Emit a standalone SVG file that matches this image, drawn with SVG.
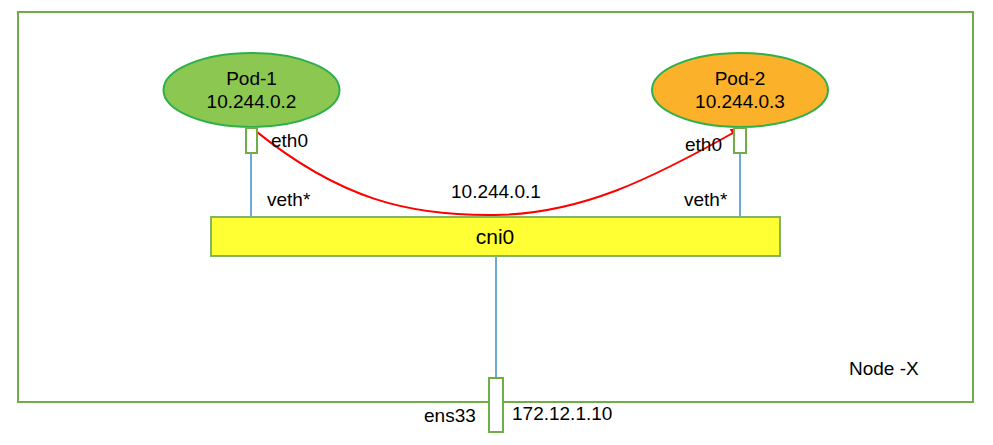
<svg xmlns="http://www.w3.org/2000/svg" width="993" height="445" viewBox="0 0 993 445">
<style>
text{font-family:"Liberation Sans",Arial,sans-serif;font-size:19px;fill:#000}
.port{fill:#fff;stroke:#70AD47;stroke-width:2}
.link{stroke:#6FA8DC;stroke-width:2;fill:none}
.pod{stroke:#2DB04B;stroke-width:2}
</style>
<defs>
<marker id="arr" viewBox="0 0 10 10" refX="9" refY="5" markerWidth="11" markerHeight="10" orient="auto" markerUnits="userSpaceOnUse">
<path d="M0,0 L10,5 L0,10 z" fill="#FF0000"/>
</marker>
</defs>
<rect width="993" height="445" fill="#fff"/>
<g id="node-x">
<rect x="18" y="12" width="955" height="390" fill="none" stroke="#70AD47" stroke-width="2"/>
<text x="849" y="375">Node -X</text>
</g>
<g id="connectors">
<line class="link" x1="251" y1="153" x2="251" y2="217"/>
<line class="link" x1="740" y1="153" x2="740" y2="217"/>
<line class="link" x1="496" y1="257" x2="496" y2="378"/>
<path d="M252,128 C340,200 410,216 495,215 C580,214 650,180 740,129" fill="none" stroke="#FF0000" stroke-width="2" marker-end="url(#arr)"/>
<text x="451" y="198">10.244.0.1</text>
</g>
<g id="pod1">
<ellipse class="pod" cx="251.5" cy="90" rx="88" ry="37" fill="#8BC751"/>
<text x="251.5" y="85" text-anchor="middle">Pod-1</text>
<text x="251.5" y="108" text-anchor="middle">10.244.0.2</text>
<rect class="port" x="246" y="128" width="11" height="25"/>
<text x="271" y="147">eth0</text>
<text x="267" y="206">veth*</text>
</g>
<g id="pod2">
<ellipse class="pod" cx="740" cy="90" rx="88" ry="37" fill="#FBB12A"/>
<text x="740" y="85" text-anchor="middle">Pod-2</text>
<text x="740" y="108" text-anchor="middle">10.244.0.3</text>
<rect class="port" x="734" y="128" width="12" height="25"/>
<text x="685" y="151">eth0</text>
<text x="684" y="206">veth*</text>
</g>
<g id="cni0">
<rect x="211" y="217" width="569" height="39" fill="#FFFF33" stroke="#82B366" stroke-width="2"/>
<text x="495" y="244" text-anchor="middle" style="font-size:21px">cni0</text>
</g>
<g id="ens33">
<rect class="port" x="489" y="378" width="14" height="54"/>
<text x="424" y="422">ens33</text>
<text x="512" y="420">172.12.1.10</text>
</g>
</svg>
